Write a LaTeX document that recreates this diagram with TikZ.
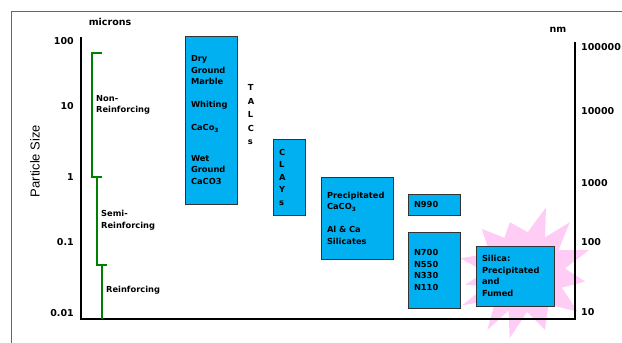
\documentclass[tikz,border=0pt]{standalone}
\usepackage{fontspec}
\setmainfont{DejaVu Sans}
\setsansfont{Liberation Sans}
\usetikzlibrary{shapes.geometric}
\definecolor{boxblue}{RGB}{0,176,240}
\definecolor{starpink}{RGB}{255,204,246}
\definecolor{bracketgreen}{RGB}{0,128,0}
\tikzset{
	filler/.style={draw=black!80, fill=boxblue, line width=0.8pt, align=left, inner xsep=6pt, inner ysep=0pt, font=\bfseries\fontsize{8.3}{11.5}\selectfont},
	axislbl/.style={inner sep=0pt, font=\bfseries\fontsize{9.5}{11}\selectfont},
	bracket/.style={draw=bracketgreen, line width=1.6pt},
	bracketlbl/.style={anchor=west, align=left, inner sep=0pt, font=\bfseries\fontsize{8.3}{11.5}\selectfont},
	axisline/.style={line width=2.6pt},
}

\begin{document}
\begin{tikzpicture}[x=1pt, y=-1pt]
		%%%%% START %%%%%
		\useasboundingbox (0, 0) rectangle (622, 343);
		\draw[black!60, line width=0.6pt] (11, 343) -- (11, 11) -- (622, 11);
		
		% starburst behind the silica box
		\fill[starpink, shift={(525, 272)}] (-72:68) -- (-60:40) -- (-48:67) -- (-33:40) -- (-19:68) -- (-5:40)
			-- (9:61) -- (23:40) -- (37:66) -- (54:40) -- (71:61) -- (87:40) -- (103:68) -- (113:42)
			-- (123:69) -- (137:40) -- (152:71) -- (160:42) -- (168:61) -- (180:40) -- (192:66) -- (208:40)
			-- (225:61) -- (239:40) -- (253:52) -- (274:40) -- cycle;
		
		% axes
		\coordinate (lefttop) at (81, 37);
		\coordinate (origin) at (81, 319);
		\coordinate (rightend) at (575, 319);
		\coordinate (righttop) at (575, 42);
		\draw[axisline] (lefttop) -- (origin) -- (rightend) -- (righttop);
		
		\node[font=\bfseries\fontsize{9.5}{11}\selectfont] (microns) at (110, 22) {microns};
		\node[font=\bfseries\fontsize{9.5}{11}\selectfont] (nm) at (558, 30) {nm};
		\node[rotate=90, font=\sffamily\fontsize{13}{15}\selectfont] (ylabel) at (35, 161) {Particle Size};
		
		\node[axislbl, anchor=east] (l100) at (74, 41) {100};
		\node[axislbl, anchor=east] (l10) at (74, 106) {10};
		\node[axislbl, anchor=east] (l1) at (74, 177) {1};
		\node[axislbl, anchor=east] (l01) at (74, 242) {0.1};
		\node[axislbl, anchor=east] (l001) at (74, 313) {0.01};
		
		\node[axislbl, anchor=west] (r100000) at (581, 47) {100000};
		\node[axislbl, anchor=west] (r10000) at (581, 111) {10000};
		\node[axislbl, anchor=west] (r1000) at (581, 183) {1000};
		\node[axislbl, anchor=west] (r100) at (581, 242) {100};
		\node[axislbl, anchor=west] (r10) at (581, 312) {10};
		
		% reinforcing brackets
		\draw[bracket] (102, 53) -- (92, 53) -- (92, 177) -- (102, 177);
		\draw[bracket] (97, 177) -- (97, 265) -- (107, 265);
		\draw[bracket] (102, 265) -- (102, 319);
		\node[bracketlbl] (nonreinf) at (96, 105) {Non-\\Reinforcing};
		\node[bracketlbl] (semireinf) at (101, 220) {Semi-\\Reinforcing};
		\node[bracketlbl] (reinf) at (106, 290) {Reinforcing};
		
		% filler boxes
		\node[filler, text width=40, minimum height=168] (marble) at (211, 120) {Dry\\Ground\\Marble\\[11.5pt]Whiting\\[11.5pt]CaCo\textsubscript{3}\\[19pt]Wet\\Ground\\CaCO3};
		\node[anchor=center, align=left, inner sep=0pt, font=\bfseries\fontsize{8.3}{13.5}\selectfont] (talcs) at (251, 115) {T\\A\\L\\C\\s};
		\node[filler, text width=20, minimum height=76, font=\bfseries\fontsize{8.3}{12.5}\selectfont] (clays) at (289, 177) {C\\L\\A\\Y\\s};
		\node[filler, text width=60, minimum height=82] (precip) at (357, 218) {Precipitated\\CaCO\textsubscript{3}\\[11.5pt]Al \& Ca\\Silicates};
		\node[filler, text width=40, minimum height=21] (n990) at (434, 204.5) {N990};
		\node[filler, text width=40, minimum height=76] (nseries) at (434, 270) {N700\\N550\\N330\\N110};
		\node[filler, text width=66, minimum height=60] (silica) at (515, 276) {Silica:\\Precipitated\\and\\Fumed};
		%%%%% END %%%%%
	\end{tikzpicture}
\end{document}
